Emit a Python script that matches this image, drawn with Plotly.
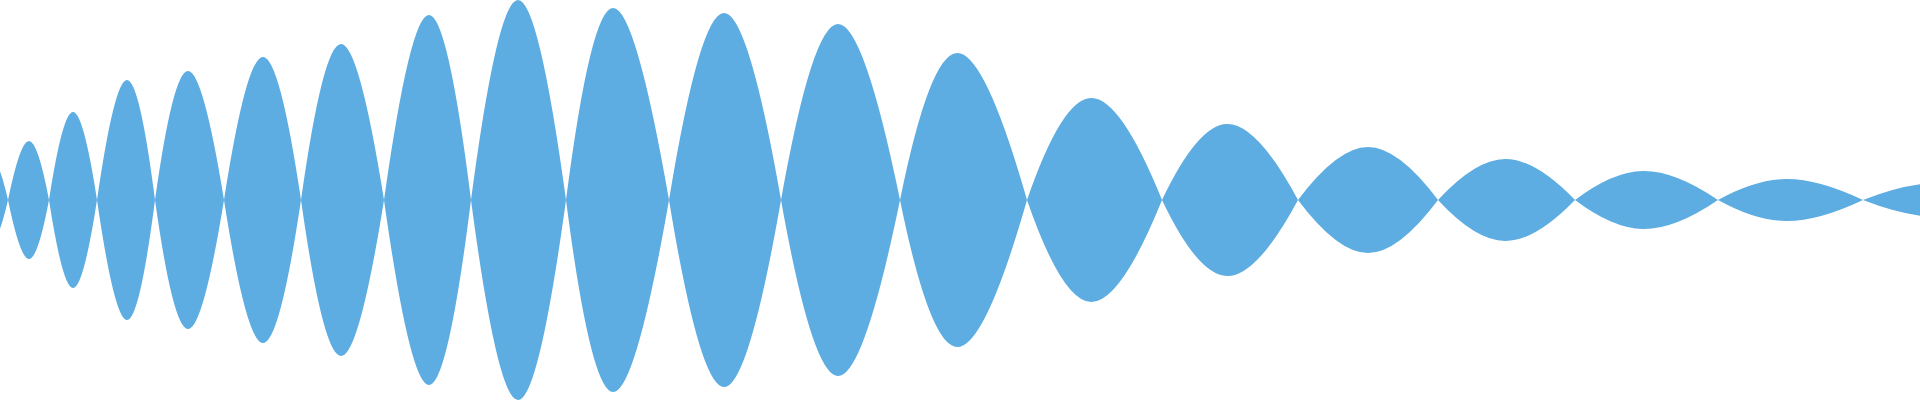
import plotly.graph_objects as go

# zero crossings of the envelope (first and last lie outside the visible range)
nodes = [-26, 8, 49, 97, 155, 224, 301, 384, 471, 566, 669, 781, 900, 1027,
         1162, 1298, 1438, 1575, 1718, 1863, 2010]
# peak position and height of each lobe between two crossings
peak_x = [-9, 29, 73, 127, 188, 263, 341, 429, 518, 613, 724, 838, 957, 1091,
          1227, 1368, 1505, 1643, 1785, 1940]
amp = [42, 59, 88, 120, 129, 143, 156, 185, 200, 192, 187, 176, 147, 102,
       76, 53, 41, 29, 21, 17]

xs, ys = [], []
for i in range(len(amp)):
    xs += [nodes[i], peak_x[i], nodes[i + 1], None]
    ys += [0, amp[i], 0, None]

color = '#5dade2'
fig = go.Figure()
for sign in (1, -1):
    fig.add_trace(go.Scatter(
        x=xs,
        y=[v * sign if v is not None else None for v in ys],
        mode='lines',
        line=dict(shape='spline', smoothing=1.3, width=0, color=color),
        fill='tozeroy',
        fillcolor=color,
        connectgaps=False,
        hoverinfo='skip',
    ))

fig.update_layout(
    width=1920,
    height=400,
    margin=dict(l=0, r=0, t=0, b=0),
    paper_bgcolor='white',
    plot_bgcolor='white',
    showlegend=False,
    xaxis=dict(range=[0, 1920], visible=False, fixedrange=True),
    yaxis=dict(range=[-200, 200], visible=False, fixedrange=True),
)
# drop the browser's default body margin so the chart sits at the window corner
fig.write_html('out.html', config={'displayModeBar': False},
               post_script="document.body.style.margin='0';")
